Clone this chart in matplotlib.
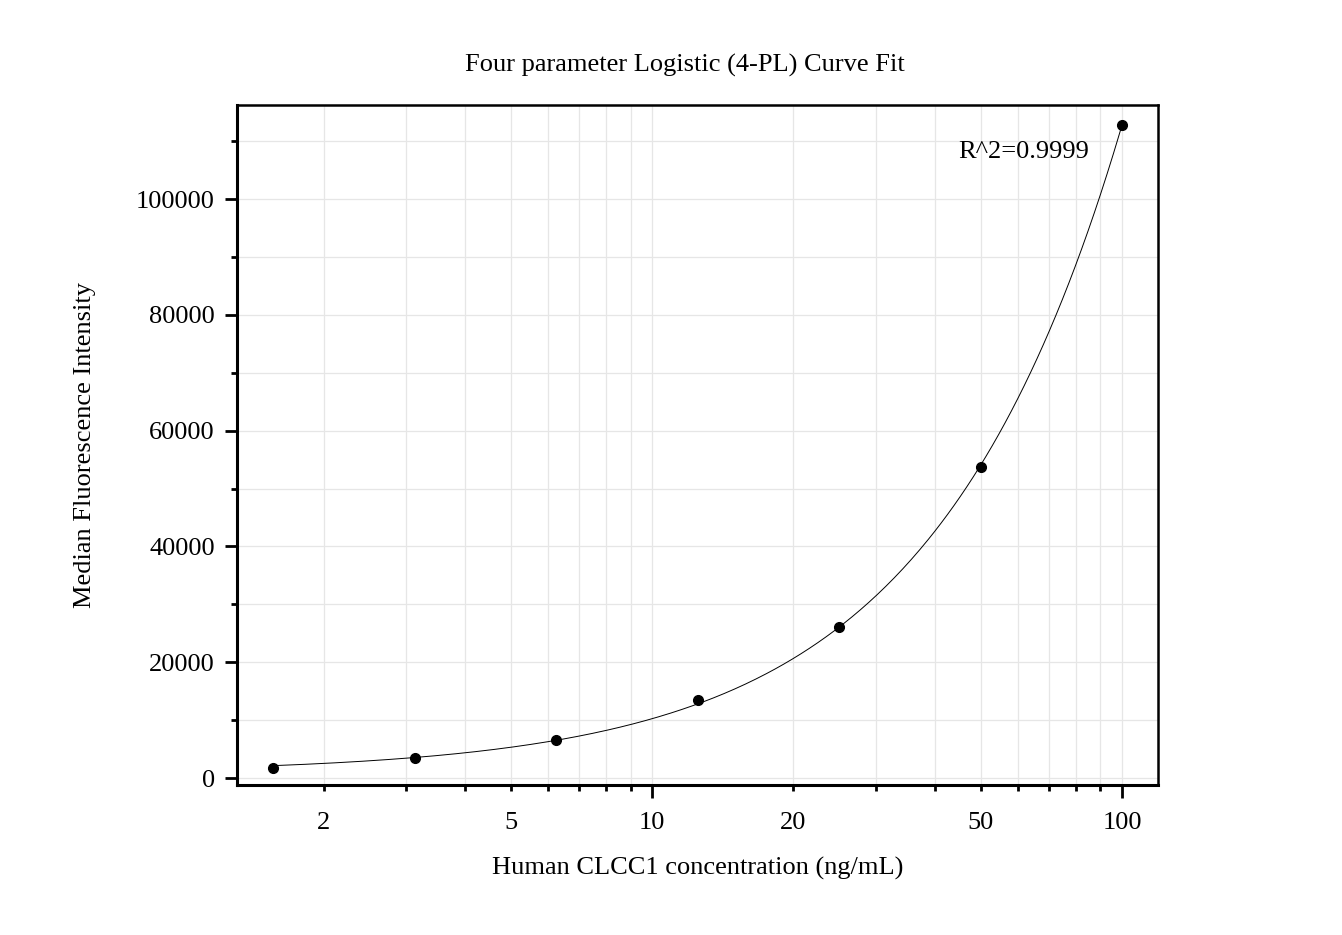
import numpy as np
import matplotlib.pyplot as plt
from matplotlib.ticker import FixedLocator, FixedFormatter, MultipleLocator

# standards
conc = [1.5625, 3.125, 6.25, 12.5, 25, 50, 100]
mfi = [1800, 3400, 6500, 13500, 26000, 53800, 112800]
x_major = [10, 100]
x_minor = [2, 3, 4, 5, 6, 7, 8, 9, 20, 30, 40, 50, 60, 70, 80, 90]
x_minor_labels = {2: '2', 5: '5', 20: '20', 50: '50'}
r2_text = "R^2=0.9999"

x = np.array(conc, dtype=float)
y = np.array(mfi, dtype=float)

# 4PL fit: y = a*g + d*(1-g), g = 1/(1+(x/c)^b); linear in a,d for fixed b,c
best = None
for b in np.linspace(0.5, 2.5, 201):
    for c in np.logspace(1, 4, 301):
        g = 1.0 / (1.0 + (x / c) ** b)
        A = np.column_stack([g, 1 - g])
        coef, *_ = np.linalg.lstsq(A, y, rcond=None)
        err = np.sum((A @ coef - y) ** 2)
        if best is None or err < best[0]:
            best = (err, b, c, coef)
_, b, c, (a, d) = best

xs = np.logspace(np.log10(x[0]), np.log10(x[-1]), 400)
gs = 1.0 / (1.0 + (xs / c) ** b)
ys = a * gs + d * (1 - gs)

plt.rcParams['font.family'] = ['Liberation Serif', 'DejaVu Serif']

fig = plt.figure(figsize=(13.42, 9.35), dpi=100)
ax = fig.add_axes([0.1766, 0.1604, 0.6863, 0.7273])

ax.plot(xs, ys, color='black', linewidth=0.7)
ax.plot(x, y, 'o', color='black', markersize=7)

ax.set_xscale('log')
ax.set_xlim(1.309, 119.3)
ax.set_ylim(-1209, 116235)

ax.xaxis.set_major_locator(FixedLocator(x_major))
ax.xaxis.set_major_formatter(FixedFormatter([str(t) for t in x_major]))
ax.xaxis.set_minor_locator(FixedLocator(x_minor))
ax.xaxis.set_minor_formatter(FixedFormatter([x_minor_labels.get(v, '') for v in x_minor]))
ax.yaxis.set_major_locator(MultipleLocator(20000))
ax.yaxis.set_minor_locator(MultipleLocator(10000))

ax.grid(True, which='both', color='#e6e6e6', linewidth=0.9)
ax.set_axisbelow(True)

ax.tick_params(which='both', direction='out', width=2, labelsize=19)
ax.tick_params(which='major', length=9)
ax.tick_params(which='minor', length=4.5)
ax.tick_params(axis='x', which='major', pad=10.6)
ax.tick_params(axis='x', which='minor', pad=15.1)
ax.tick_params(axis='y', which='major', pad=7)
for side in ['left', 'bottom']:
    ax.spines[side].set_linewidth(2.2)
for side in ['top', 'right']:
    ax.spines[side].set_linewidth(1.8)

ax.text(44.8, 108100, r2_text, fontsize=19, ha='left', va='center')

fig.text(685 / 1342, 1 - 65 / 935, 'Four parameter Logistic (4-PL) Curve Fit',
         fontsize=19, ha='center', va='center')
ax.set_xlabel('Human CLCC1 concentration (ng/mL)', fontsize=19, labelpad=16)
ax.set_ylabel('Median Fluorescence Intensity', fontsize=19, labelpad=29)

fig.savefig('out.png', dpi=100)
